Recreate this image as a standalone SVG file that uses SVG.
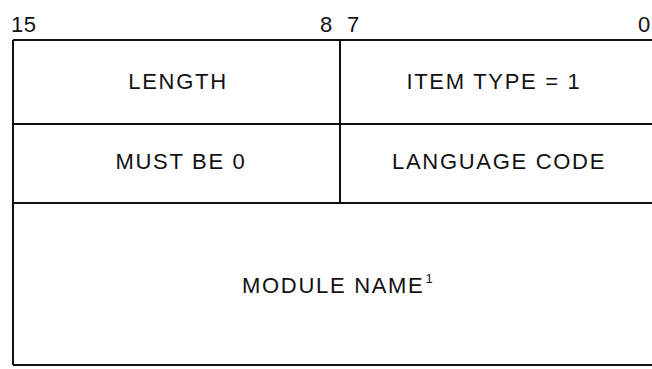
<svg xmlns="http://www.w3.org/2000/svg" width="652" height="369" viewBox="0 0 652 369">
<style>
.ln{stroke:#111;stroke-width:2;fill:none}
.t{font-family:"Liberation Sans",Arial,sans-serif;font-size:22px;fill:#111;letter-spacing:1.7px}
.h{font-family:"Liberation Sans",Arial,sans-serif;font-size:22px;fill:#111;letter-spacing:0.5px}
.s{font-family:"Liberation Sans",Arial,sans-serif;font-size:13px;fill:#111}
</style>
<rect width="652" height="369" fill="#fff"/>
<g id="header">
<text class="h" x="11" y="32">15</text>
<text class="h" x="320" y="32">8</text>
<text class="h" x="347" y="32">7</text>
<text class="h" x="638" y="32">0</text>
</g>
<g id="connectors">
<path class="ln" d="M13 40H652M13 124H652M13 203H652M13 365H652M13 40V365M340 40V203"/>
</g>
<g id="length"><text class="t" x="178" y="89" text-anchor="middle">LENGTH</text></g>
<g id="itemtype"><text class="t" x="494" y="89" text-anchor="middle">ITEM TYPE = 1</text></g>
<g id="mustbe0"><text class="t" x="181" y="169" text-anchor="middle">MUST BE 0</text></g>
<g id="langcode"><text class="t" x="499" y="169" text-anchor="middle">LANGUAGE CODE</text></g>
<g id="modulename"><text class="t" x="242" y="293">MODULE NAME<tspan class="s" dy="-10" dx="1">1</tspan></text></g>
</svg>
